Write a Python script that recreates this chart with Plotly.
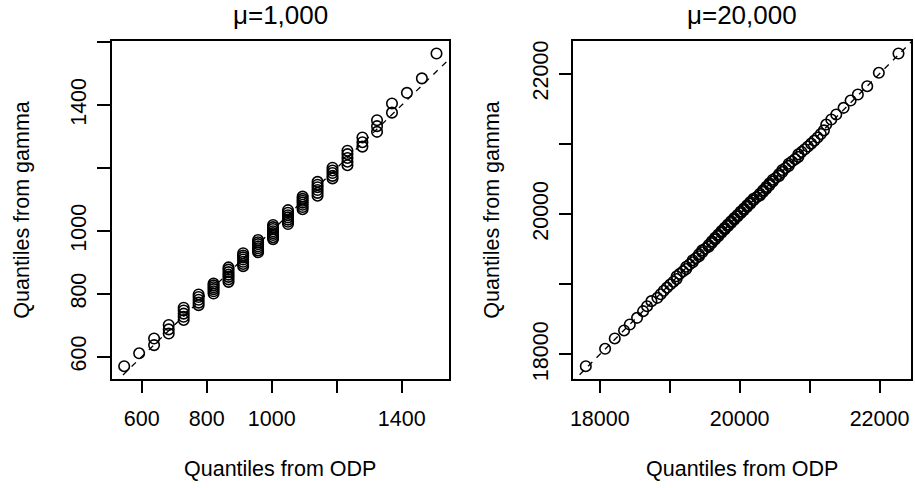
import plotly.graph_objects as go

# ---------------- data ----------------
# Left panel: mu = 1,000
odp_1000 = [546, 592, 638, 638, 683, 683, 683,
            729, 729, 729, 729, 729,
            775, 775, 775, 775, 775,
            821, 821, 821, 821, 821, 821,
            867, 867, 867, 867, 867, 867, 867,
            912, 912, 912, 912, 912, 912, 912,
            958, 958, 958, 958, 958, 958, 958,
            1004, 1004, 1004, 1004, 1004, 1004, 1004, 1004,
            1050, 1050, 1050, 1050, 1050, 1050, 1050,
            1095, 1095, 1095, 1095, 1095, 1095, 1095,
            1141, 1141, 1141, 1141, 1141, 1141,
            1187, 1187, 1187, 1187, 1187,
            1233, 1233, 1233, 1233, 1233,
            1279, 1279, 1279,
            1324, 1324, 1324,
            1370, 1370,
            1416, 1462, 1507]
gamma_1000 = [570, 611, 637, 658, 674, 687, 701,
              717, 727, 737, 747, 756,
              764, 772, 781, 790, 798,
              801, 808, 815, 821, 827, 833,
              838, 846, 854, 861, 869, 877, 884,
              888, 895, 902, 909, 916, 922, 929,
              932, 938, 945, 951, 958, 964, 971,
              974, 980, 987, 993, 999, 1006, 1012, 1019,
              1022, 1029, 1036, 1043, 1050, 1058, 1066,
              1069, 1076, 1083, 1090, 1096, 1102, 1109,
              1112, 1121, 1130, 1139, 1147, 1156,
              1167, 1175, 1184, 1192, 1201,
              1209, 1220, 1232, 1244, 1255,
              1268, 1282, 1297,
              1315, 1333, 1352,
              1376, 1405,
              1439, 1485, 1564]

# Right panel: mu = 20,000
odp_20000 = [17800, 18076, 18214, 18347, 18429, 18533, 18619, 18676, 18738,
             18824, 18870, 18915, 18961, 19007, 19053, 19099, 19099, 19144, 19190,
             19236, 19236, 19282, 19328, 19328, 19373, 19419, 19419, 19465, 19465,
             19511, 19557, 19557, 19603, 19603, 19648, 19648, 19694, 19694, 19740,
             19740, 19786, 19786, 19831, 19831, 19877, 19877, 19923, 19923, 19969,
             19969, 20015, 20015, 20060, 20060, 20106, 20106, 20152, 20152, 20198,
             20198, 20244, 20289, 20289, 20335, 20335, 20381, 20381, 20427, 20427,
             20473, 20473, 20518, 20564, 20564, 20610, 20610, 20656, 20702, 20702,
             20747, 20793, 20839, 20839, 20885, 20931, 20976, 21022, 21068, 21114,
             21160, 21205,
             21238, 21310, 21381, 21486, 21586, 21690, 21824, 21990, 22271]
gamma_20000 = [17833, 18081, 18228, 18342, 18427, 18522, 18617, 18688, 18760,
               18807, 18859, 18908, 18953, 18996, 19037, 19076, 19114, 19149, 19185,
               19217, 19250, 19282, 19313, 19343, 19372, 19400, 19429, 19456, 19483,
               19510, 19536, 19561, 19587, 19612, 19637, 19661, 19686, 19710, 19734,
               19758, 19782, 19804, 19828, 19851, 19874, 19897, 19920, 19943, 19965,
               19988, 20012, 20035, 20057, 20080, 20103, 20126, 20149, 20172, 20196,
               20218, 20242, 20266, 20290, 20314, 20339, 20363, 20388, 20413, 20439,
               20464, 20490, 20517, 20544, 20571, 20600, 20628, 20657, 20687, 20718,
               20750, 20783, 20815, 20851, 20886, 20924, 20963, 21004, 21047, 21092,
               21141, 21193,
               21276, 21348, 21419, 21514, 21618, 21704, 21822, 22013, 22288]

ticks_1000 = [600, 800, 1000, 1200, 1400, 1600]
xlabels_1000 = ["600", "800", "1000", "", "1400", ""]
ylabels_1000 = ["600", "800", "1000", "", "1400", ""]
ticks_20000 = [18000, 19000, 20000, 21000, 22000]
labels_20000 = ["18000", "", "20000", "", "22000"]

titles = ["\u03bc=1,000", "\u03bc=20,000"]
xtitle = "Quantiles from ODP"
ytitle = "Quantiles from gamma"

# ---------------- helpers ----------------
W, H = 915, 488
FONT = "Liberation Sans, Arial, Helvetica, sans-serif"


def rrange(v):
    lo, hi = min(v), max(v)
    d = hi - lo
    return [lo - 0.04 * d, hi + 0.04 * d]


def px_x(p):
    return p / W


def px_y(p):
    return 1 - p / H


fig = go.Figure()

panels = [
    (odp_1000, gamma_1000, "x", "y"),
    (odp_20000, gamma_20000, "x2", "y2"),
]
ranges = []
for xs, ys, xa, ya in panels:
    xr, yr = rrange(xs), rrange(ys)
    ranges.append((xr, yr))
    lo = min(xr[0], yr[0]) - 1000
    hi = max(xr[1], yr[1]) + 1000
    fig.add_trace(go.Scatter(x=[lo, hi], y=[lo, hi], mode="lines",
                             line=dict(color="black", width=1.3, dash="6px,6px"),
                             xaxis=xa, yaxis=ya, hoverinfo="skip", showlegend=False))
    fig.add_trace(go.Scatter(x=xs, y=ys, mode="markers",
                             marker=dict(symbol="circle-open", size=10.5, color="black",
                                         line=dict(width=1.6, color="black")),
                             xaxis=xa, yaxis=ya, showlegend=False))

left_dom = [px_x(111.7), px_x(449)]
right_dom = [px_x(573.3), px_x(911)]
y_dom = [px_y(378.7), px_y(41)]

axis_common = dict(showgrid=False, zeroline=False, showline=True, mirror=True,
                   linecolor="black", linewidth=1.5, ticks="outside", ticklen=13,
                   tickwidth=1.5, tickcolor="black", automargin=False,
                   tickfont=dict(family=FONT, size=21.5, color="black"))

fig.update_layout(
    width=W, height=H,
    margin=dict(l=0, r=0, t=0, b=0, pad=0),
    paper_bgcolor="white", plot_bgcolor="white",
    xaxis=dict(domain=left_dom, range=ranges[0][0], anchor="y",
               tickvals=ticks_1000, ticktext=xlabels_1000, ticklabelstandoff=7,
               **axis_common),
    yaxis=dict(domain=y_dom, range=ranges[0][1], anchor="x",
               tickvals=ticks_1000, ticktext=ylabels_1000, tickangle=-90,
               ticklabelstandoff=2, **axis_common),
    xaxis2=dict(domain=right_dom, range=ranges[1][0], anchor="y2",
                tickvals=ticks_20000, ticktext=labels_20000, ticklabelstandoff=7,
                **axis_common),
    yaxis2=dict(domain=y_dom, range=ranges[1][1], anchor="x2",
                tickvals=ticks_20000, ticktext=labels_20000, tickangle=-90,
                ticklabelstandoff=2, **axis_common),
)

ann = []
centers = [(111.7 + 449) / 2, (573.3 + 911) / 2]
ytitle_x = [21.7, 491.7]
for i in range(2):
    ann.append(dict(text=titles[i], x=px_x(centers[i]), y=px_y(15), xref="paper", yref="paper",
                    xanchor="center", yanchor="middle", showarrow=False,
                    font=dict(family=FONT, size=26, color="black")))
    ann.append(dict(text=xtitle, x=px_x(centers[i]), y=px_y(469), xref="paper", yref="paper",
                    xanchor="center", yanchor="middle", showarrow=False,
                    font=dict(family=FONT, size=21.5, color="black")))
    ann.append(dict(text=ytitle, x=px_x(ytitle_x[i]), y=px_y(210), xref="paper", yref="paper",
                    xanchor="center", yanchor="middle", showarrow=False, textangle=-90,
                    font=dict(family=FONT, size=21.5, color="black")))
fig.update_layout(annotations=ann)

# remove the browser's default 8px body margin so the figure sits at (0, 0)
fig.write_html("out.html",
               config={"displayModeBar": False},
               post_script="document.body.style.margin='0';"
                           "document.body.style.overflow='hidden';")
